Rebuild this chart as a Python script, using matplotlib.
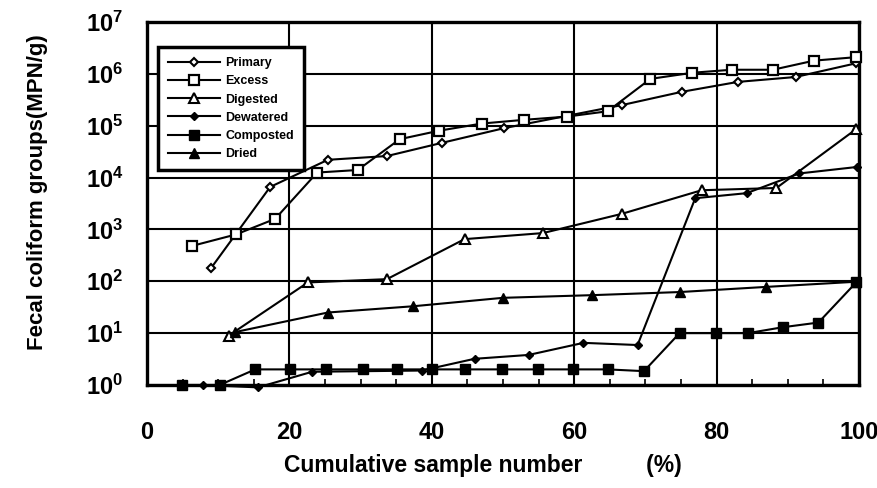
import matplotlib
matplotlib.use("Agg")
import matplotlib.pyplot as plt
from matplotlib.ticker import FixedLocator, MultipleLocator, NullLocator

plt.rcParams['font.family'] = ['Liberation Sans', 'DejaVu Sans']
plt.rcParams['mathtext.fontset'] = 'custom'
plt.rcParams['mathtext.rm'] = 'Liberation Sans:bold'
plt.rcParams['mathtext.bf'] = 'Liberation Sans:bold'
plt.rcParams['mathtext.it'] = 'Liberation Sans:bold'

# ---- data ----
primary_x = [9.0, 17.3, 25.4, 33.7, 41.5, 50.2, 66.7, 75.1, 83.0, 91.1, 99.6]
primary_y = [180, 6600, 2.2e4, 2.6e4, 4.7e4, 9e4, 2.5e5, 4.5e5, 7e5, 8.7e5, 1.6e6]

excess_x = [6.3, 12.5, 18.0, 23.9, 29.6, 35.5, 41.0, 47.0, 53.0, 59.0, 64.7, 70.7, 76.6, 82.1, 87.9, 93.7, 99.6]
excess_y = [480, 800, 1600, 1.25e4, 1.4e4, 5.5e4, 8e4, 1.1e5, 1.3e5, 1.5e5, 1.9e5, 8e5, 1.05e6, 1.2e6, 1.2e6, 1.8e6, 2.1e6]

digested_x = [11.5, 22.6, 33.7, 44.6, 55.6, 66.7, 77.9, 88.4, 99.6]
digested_y = [9, 95, 110, 650, 850, 2000, 5700, 6300, 8.6e4]

dewatered_x = [7.9, 15.6, 23.2, 38.6, 46.0, 53.6, 61.3, 68.9, 77.0, 84.2, 91.6, 99.7]
dewatered_y = [1.0, 0.9, 1.8, 1.9, 3.2, 3.8, 6.5, 5.9, 4000, 5000, 1.2e4, 1.6e4]

composted_x = [4.9, 10.2, 15.2, 20.1, 25.2, 30.4, 35.1, 40.0, 44.7, 49.8, 54.9, 59.8, 64.7, 69.8, 74.8, 79.9, 84.4, 89.3, 94.3, 99.6]
composted_y = [1, 1, 2, 2, 2, 2, 2, 2, 2, 2, 2, 2, 2, 1.85, 10, 10, 10, 13, 16, 95]

dried_x = [12.4, 25.4, 37.4, 50.0, 62.5, 74.8, 87.0, 99.6]
dried_y = [10.5, 25, 33, 48, 54, 62, 78, 98]

x_ticks = [0, 20, 40, 60, 80, 100]
y_exps = [0, 1, 2, 3, 4, 5, 6, 7]

# ---- figure ----
fig = plt.figure(figsize=(8.78, 4.88), dpi=100)
ax = fig.add_axes([147/878, 1-385/488, 712/878, 363/488])

lw = 1.5
common = dict(color='black', lw=lw, clip_on=False, zorder=4)
ax.plot(primary_x, primary_y, '-', marker='D', ms=4, mfc='white', mec='black',
        mew=1.5, label='Primary', **common)
ax.plot(excess_x, excess_y, '-', marker='s', ms=7.5, mfc='white', mec='black',
        mew=1.6, label='Excess', **common)
ax.plot(digested_x, digested_y, '-', marker='^', ms=6.5, mfc='white', mec='black',
        mew=1.5, label='Digested', **common)
ax.plot(dewatered_x, dewatered_y, '-', marker='D', ms=4.5, mfc='black', mec='black',
        label='Dewatered', **common)
ax.plot(composted_x, composted_y, '-', marker='s', ms=7, mfc='black', mec='black',
        label='Composted', **common)
ax.plot(dried_x, dried_y, '-', marker='^', ms=6.5, mfc='black', mec='black',
        label='Dried', **common)

ax.set_yscale('log')
ax.set_xlim(0, 100)
ax.set_ylim(1, 1e7)

ax.xaxis.set_major_locator(FixedLocator(x_ticks))
ax.xaxis.set_minor_locator(MultipleLocator(5))
ax.yaxis.set_major_locator(FixedLocator([10.0**k for k in y_exps]))
ax.yaxis.set_minor_locator(NullLocator())
ax.set_xticklabels([str(t) for t in x_ticks], fontsize=17, fontweight='bold')
ax.set_yticklabels([r'$10^{%d}$' % k for k in y_exps], fontsize=17)
ax.tick_params(axis='x', which='major', length=0, pad=26)
ax.tick_params(axis='x', which='minor', length=4, width=1.2, direction='in', top=False)
ax.tick_params(axis='y', which='major', length=0, pad=17)

ax.grid(True, which='major', color='black', lw=1.5)
for s in ax.spines.values():
    s.set_linewidth(2.4)

ax.set_xlabel('Cumulative sample number          (%)', fontsize=16.5, fontweight='bold')
ax.xaxis.set_label_coords(0.472, -0.19)
ax.set_ylabel('Fecal coliform groups(MPN/g)', fontsize=16, fontweight='bold')
ax.yaxis.set_label_coords(-0.139, 0.53)

leg = ax.legend(loc='upper left', bbox_to_anchor=(0.015, 0.931), borderaxespad=0,
                prop={'weight': 'bold', 'size': 9}, frameon=True, fancybox=False,
                handlelength=4.2, labelspacing=0.5, borderpad=0.8, handletextpad=0.4)
leg.get_frame().set_edgecolor('black')
leg.get_frame().set_linewidth(2.5)
leg.get_frame().set_facecolor('white')
leg.get_frame().set_alpha(1)
leg.set_zorder(5)

fig.savefig('out.png', dpi=100)
